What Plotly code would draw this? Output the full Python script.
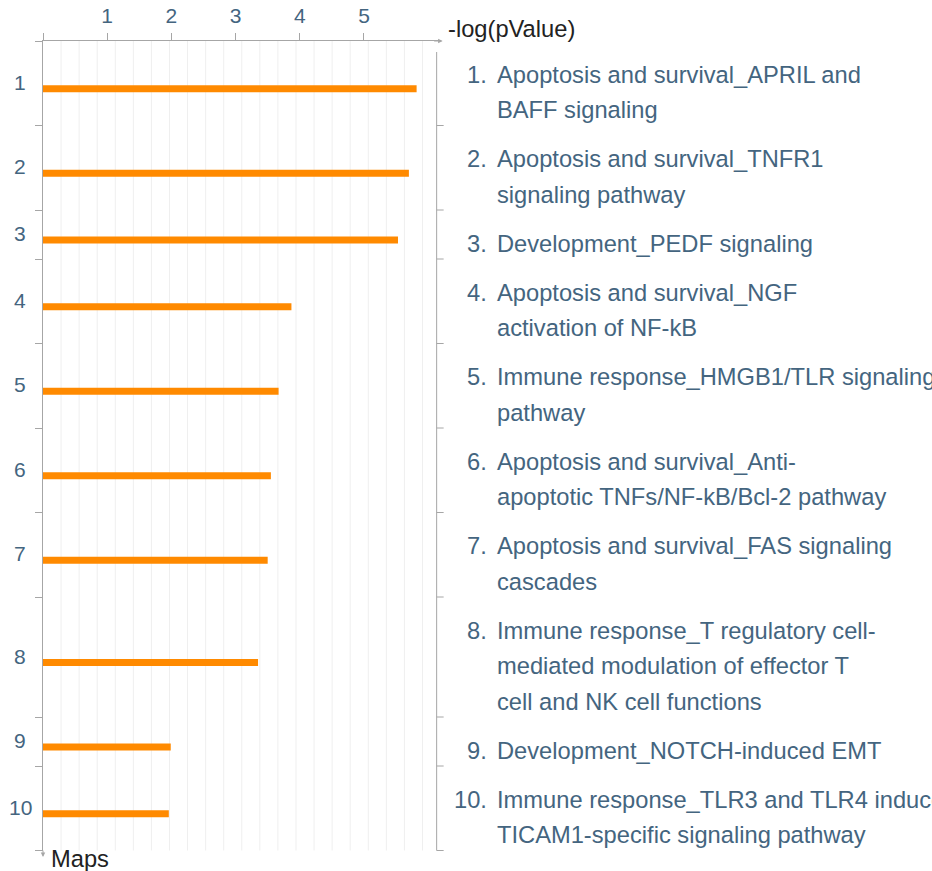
import plotly.graph_objects as go

# Enriched pathway maps, ranked by significance
map_lines = [
    ["Apoptosis and survival_APRIL and", "BAFF signaling"],
    ["Apoptosis and survival_TNFR1", "signaling pathway"],
    ["Development_PEDF signaling"],
    ["Apoptosis and survival_NGF", "activation of NF-kB"],
    ["Immune response_HMGB1/TLR signaling", "pathway"],
    ["Apoptosis and survival_Anti-", "apoptotic TNFs/NF-kB/Bcl-2 pathway"],
    ["Apoptosis and survival_FAS signaling", "cascades"],
    ["Immune response_T regulatory cell-", "mediated modulation of effector T", "cell and NK cell functions"],
    ["Development_NOTCH-induced EMT"],
    ["Immune response_TLR3 and TLR4 induced", "TICAM1-specific signaling pathway"],
]
rank_labels = ["1", "2", "3", "4", "5", "6", "7", "8", "9", "10"]
neg_log_p = [5.82, 5.70, 5.53, 3.87, 3.67, 3.55, 3.50, 3.35, 1.99, 1.96]
x_tick_vals = [0, 1, 2, 3, 4, 5]
x_tick_text = ["", "1", "2", "3", "4", "5"]

# ---- layout geometry ----
W, H = 932, 871
ML, MT = 43, 41
PX_PER_UNIT = 64.25
X_MAX = 6.2
PLOT_W = X_MAX * PX_PER_UNIT
MR = W - ML - PLOT_W
Y_SPAN = 810          # y axis is in pixel-like units, 1 unit = 1 px
MB = H - MT - Y_SPAN

LINE = 35.5
PAD = 13.5
GRID_STEP = 0.2815

SLATE = "#44657f"
AXIS = "#a6a6a6"
FONT = "Liberation Sans, Arial, Helvetica, sans-serif"
LABEL_SIZE = 23.7


def px_x(p):
    return (p - ML) / PLOT_W


def px_y(p):
    return 1 - (p - MT) / Y_SPAN


def u_y(u):
    return 1 - u / Y_SPAN


# row extents grow with the number of label lines
bounds = [0.0]
for lines in map_lines:
    bounds.append(bounds[-1] + LINE * len(lines) + PAD)
mids = [(a + b) / 2 for a, b in zip(bounds[:-1], bounds[1:])]
bar_y = [m + 5.5 for m in mids]

fig = go.Figure()
fig.add_trace(go.Bar(
    x=neg_log_p, y=bar_y, orientation="h", width=7,
    marker=dict(color="#ff8a00", line=dict(width=0)),
    hoverinfo="x",
))

shapes = []
# light vertical grid
k = 1
while k * GRID_STEP < 6.0:
    shapes.append(dict(type="line", xref="x", yref="y", x0=k * GRID_STEP, x1=k * GRID_STEP,
                       y0=0, y1=bounds[-1], line=dict(color="#efefef", width=1), layer="below"))
    k += 1

# right-hand bracket separating rows from their labels
BX = 437
shapes.append(dict(type="line", xref="paper", yref="paper", x0=px_x(BX), x1=px_x(BX),
                   y0=px_y(52), y1=u_y(bounds[-1]), line=dict(color=AXIS, width=1)))
for b in bounds[1:]:
    shapes.append(dict(type="line", xref="paper", yref="paper", x0=px_x(BX), x1=px_x(BX + 7),
                       y0=u_y(b), y1=u_y(b), line=dict(color=AXIS, width=1)))

annotations = []
# axis arrowheads
annotations.append(dict(xref="paper", yref="paper", x=px_x(443), y=1, ax=-10, ay=0,
                        showarrow=True, arrowhead=2, arrowsize=0.9, arrowwidth=1,
                        arrowcolor=AXIS, text=""))
annotations.append(dict(xref="paper", yref="paper", x=0, y=px_y(857), ax=0, ay=-8,
                        showarrow=True, arrowhead=2, arrowsize=0.9, arrowwidth=1,
                        arrowcolor=AXIS, text=""))
# axis titles
annotations.append(dict(xref="paper", yref="paper", x=px_x(446), y=px_y(29),
                        xanchor="left", yanchor="middle", showarrow=False,
                        text="-log(pValue)", font=dict(family=FONT, size=LABEL_SIZE, color="#222222")))
annotations.append(dict(xref="paper", yref="paper", x=px_x(49), y=px_y(859),
                        xanchor="left", yanchor="middle", showarrow=False,
                        text="Maps", font=dict(family=FONT, size=LABEL_SIZE, color="#222222")))

for i, (lines, m, by) in enumerate(zip(map_lines, mids, bar_y)):
    # rank number on the left axis
    annotations.append(dict(xref="paper", yref="y", x=px_x(20), y=by - 6.5,
                            xanchor="center", yanchor="middle", showarrow=False,
                            text=rank_labels[i], font=dict(family=FONT, size=21, color=SLATE)))
    n = len(lines)
    for j, line in enumerate(lines):
        ly = m + 9 + (j - (n - 1) / 2) * LINE
        if j == 0:
            annotations.append(dict(xref="paper", yref="y", x=px_x(489), y=ly,
                                    xanchor="right", yanchor="middle", showarrow=False,
                                    text=rank_labels[i] + ".",
                                    font=dict(family=FONT, size=LABEL_SIZE, color=SLATE)))
        annotations.append(dict(xref="paper", yref="y", x=px_x(495), y=ly,
                                xanchor="left", yanchor="middle", showarrow=False,
                                text=line, font=dict(family=FONT, size=LABEL_SIZE, color=SLATE)))

fig.update_layout(
    width=W, height=H,
    margin=dict(l=ML, r=MR, t=MT, b=MB, pad=0, autoexpand=False),
    paper_bgcolor="white", plot_bgcolor="white",
    showlegend=False,
    font=dict(family=FONT, color=SLATE),
    xaxis=dict(range=[0, X_MAX], side="top", showgrid=False, zeroline=False,
               showline=True, linecolor=AXIS, linewidth=1, automargin=False,
               tickmode="array", tickvals=x_tick_vals, ticktext=x_tick_text,
               ticks="outside", ticklen=7, tickcolor=AXIS, tickwidth=1,
               ticklabelstandoff=2,
               tickfont=dict(family=FONT, size=21, color=SLATE), fixedrange=True),
    yaxis=dict(range=[Y_SPAN, 0], showgrid=False, zeroline=False,
               showline=True, linecolor=AXIS, linewidth=1, automargin=False,
               tickmode="array", tickvals=bounds, showticklabels=False,
               ticks="outside", ticklen=7, tickcolor=AXIS, tickwidth=1, fixedrange=True),
    shapes=shapes,
    annotations=annotations,
)

fig.write_html("out.html")
